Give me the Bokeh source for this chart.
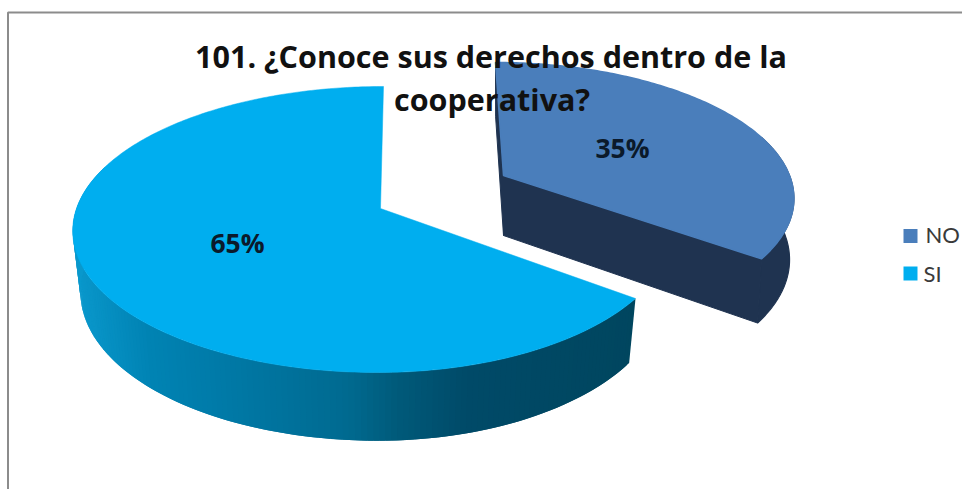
import math
from bokeh.plotting import figure
from bokeh.models import Range1d
from bokeh.core.properties import value
from bokeh.embed import file_html
from bokeh.resources import INLINE

# ---- data ----
categories = ["NO", "SI"]
shares = [35, 65]
pct_labels = ["35%", "65%"]
title_lines = ["101. ¿Conoce sus derechos dentro de la", "cooperativa?"]

# ---- style ----
top_colors = ["#4A7EBB", "#00AEEF"]
no_wall = "#1F3350"
si_wall_stops = [(73, (10, 152, 204)), (150, (0, 131, 179)), (220, (0, 122, 168)),
                 (350, (0, 106, 144)), (400, (0, 90, 122)), (470, (0, 74, 104)), (640, (0, 70, 95))]
FONT = "Lato"
TITLE_FONT = "Open Sans"

W, H = 962, 489
p = figure(width=W, height=H, output_backend="svg", toolbar_location=None,
           x_range=Range1d(0, W), y_range=Range1d(H, 0),
           x_axis_location=None, y_axis_location=None,
           min_border=0, outline_line_color=None, background_fill_color="white",
           border_fill_color="white",
           styles={"position": "absolute", "left": "0px", "top": "0px"})
p.grid.visible = False

# perspective pie model
DIST, K = 6.81, 953.0
geom = {
    "NO": dict(ax=503, ay=175, fl=286, fr=286, sh=8, ys=0.926, depth=60, bs=0.985),
    "SI": dict(ax=380, ay=208, fl=304, fr=290, sh=-3, ys=1.0, depth=60, bs=0.975),
}


def top_pt(g, th):
    u, v = math.sin(th), -math.cos(th)
    s = 1 / (1 - v / DIST)
    f = g["fl"] if u < 0 else g["fr"]
    return f * u * s + g["sh"] * v, K * v / (DIST - v) * g["ys"]


def t_xy(g, th):
    x, y = top_pt(g, th)
    return g["ax"] + x, g["ay"] + y


def b_xy(g, th):
    x, y = top_pt(g, th)
    return g["ax"] + g["bs"] * x, g["ay"] + g["depth"] + 1.05 * y


def wall_color(x):
    for (x0, c0), (x1, c1) in zip(si_wall_stops, si_wall_stops[1:]):
        if x <= x1:
            t = max(0, (x - x0) / (x1 - x0))
            return "#%02x%02x%02x" % tuple(round(a + (b - a) * t) for a, b in zip(c0, c1))
    return "#%02x%02x%02x" % si_wall_stops[-1][1]


total = sum(shares)
bounds = [0.0]
for sh in shares:
    bounds.append(bounds[-1] + 2 * math.pi * sh / total)


def arc(a0, a1, n):
    return [a0 + (a1 - a0) * i / n for i in range(n + 1)]


def top_face(g, ths, color, lw=0.5):
    pts = [t_xy(g, t) for t in ths]
    p.patch([g["ax"]] + [q[0] for q in pts], [g["ay"]] + [q[1] for q in pts],
            fill_color=color, line_color=color, line_width=lw)


# SI: gradient wall made of overlapping strips (front part only), then top
g = geom["SI"]
wall_end = bounds[2] - 2 * math.pi * 0.2
ths = arc(bounds[1], wall_end, 160)
xs, ys, cols = [], [], []
for i in range(len(ths) - 1):
    t0, t1 = ths[i], ths[min(i + 2, len(ths) - 1)]
    x0, y0 = t_xy(g, t0); x1, y1 = t_xy(g, t1)
    x2, y2 = b_xy(g, t1); x3, y3 = b_xy(g, t0)
    xs.append([x0, x1, x2, x3]); ys.append([y0, y1, y2, y3])
    cols.append(wall_color(t_xy(g, ths[i])[0]))
p.patches(xs, ys, fill_color=cols, line_color=None)
top_face(g, arc(bounds[1], bounds[2], 300), top_colors[1])

# NO: wall body from the visible part of the arc, radial faces, then top
g = geom["NO"]
ths = arc(bounds[0], bounds[1], 160)
vis = arc(bounds[0] + 2 * math.pi * 0.2, bounds[1], 100)
tp = [t_xy(g, t) for t in vis]
bp = [b_xy(g, t) for t in reversed(vis)]
p.patch([q[0] for q in tp + bp], [q[1] for q in tp + bp],
        fill_color=no_wall, line_color=no_wall, line_width=1.2)
for th in (bounds[0], bounds[1]):
    tx, ty = t_xy(g, th); bx, by = b_xy(g, th)
    p.patch([g["ax"], tx, bx, g["ax"]], [g["ay"], ty, by, g["ay"] + g["depth"]],
            fill_color=no_wall, line_color=no_wall, line_width=1)
top_face(g, ths, top_colors[0], lw=1.5)

# frame
p.line([7.5, 7.5, W], [H, 12, 12], line_color="#8C8C8C", line_width=2)

# title
p.text([490.5, 491.5], [55, 98], text=title_lines, text_font=value(TITLE_FONT), text_font_style="bold",
       text_font_size="30.5px", text_color="#111111", text_align="center", text_baseline="middle")

# data labels
p.text([622, 237], [147, 242], text=pct_labels, text_font=value(TITLE_FONT), text_font_style="bold",
       text_font_size="26.5px", text_color="#0B1A2B", text_align="center", text_baseline="middle")

# legend
p.scatter([910, 910], [235.5, 273], size=14, marker="square", fill_color=top_colors, line_color=None)
p.text([925, 923], [234, 273], text=categories, text_font=value(FONT), text_font_size="22px",
       text_color="#3A3A3A", text_align="left", text_baseline="middle")

open("out.html", "w").write(file_html(p, INLINE))
